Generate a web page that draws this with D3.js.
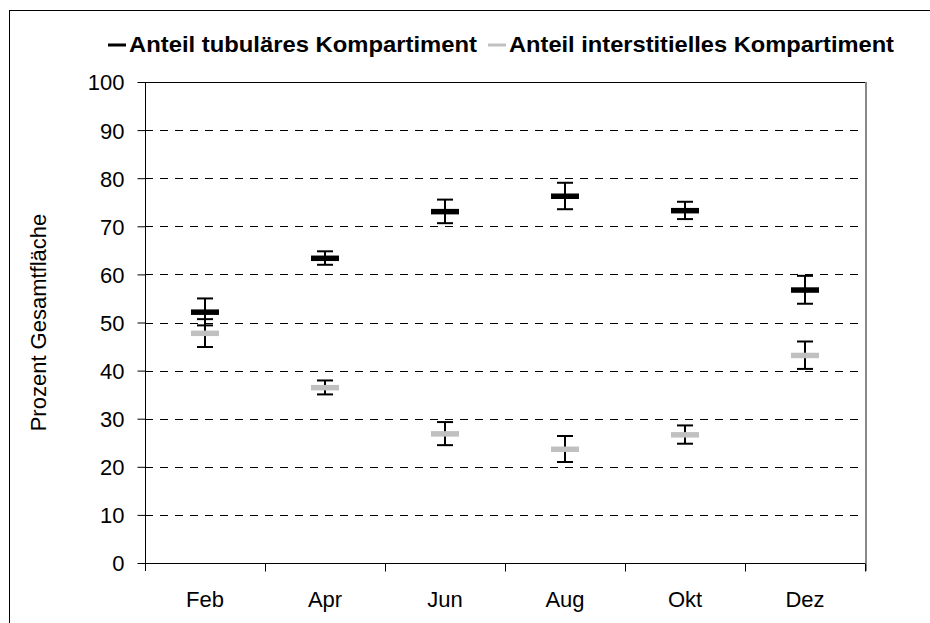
<!DOCTYPE html>
<html>
<head>
<meta charset="utf-8">
<script src="https://cdn.jsdelivr.net/npm/d3@7/dist/d3.min.js"></script>
<style>
  html, body { margin: 0; padding: 0; background: #fff; }
  svg { display: block; font-family: "Liberation Sans", Arial, sans-serif; }
</style>
</head>
<body>
<svg id="chart" width="930" height="623"></svg>
<script>
// Monthly share of total area per compartment (mean ± error)
const months = ["Feb", "Apr", "Jun", "Aug", "Okt", "Dez"];
const tubularMean = [52.2, 63.4, 73.1, 76.3, 73.3, 56.8];
const tubularErr  = [2.8, 1.4, 2.45, 2.75, 1.8, 2.9];
const interstitialMean = [47.8, 36.5, 26.9, 23.7, 26.7, 43.2];
const interstitialErr  = [2.9, 1.45, 2.4, 2.7, 1.9, 2.85];
const yTicks = [0, 10, 20, 30, 40, 50, 60, 70, 80, 90, 100];
const seriesNames = ["Anteil tubuläres Kompartiment", "Anteil interstitielles Kompartiment"];
const seriesColors = ["#000000", "#c0c0c0"];

const series = [
  { name: seriesNames[0], color: seriesColors[0], mean: tubularMean, err: tubularErr },
  { name: seriesNames[1], color: seriesColors[1], mean: interstitialMean, err: interstitialErr }
];

const svg = d3.select("#chart");
const plot = { left: 145, right: 865, top: 82, bottom: 563 };
const fontSize = 22;

// outer frame
svg.append("rect")
  .attr("x", 9.5).attr("y", 10.5)
  .attr("width", 940).attr("height", 640)
  .attr("fill", "none").attr("stroke", "#000").attr("stroke-width", 1);

const x = d3.scaleBand().domain(months).range([plot.left, plot.right]).padding(0);
const y = d3.scaleLinear().domain([0, 100]).range([plot.bottom, plot.top]);

// dashed gridlines
svg.append("g")
  .selectAll("line")
  .data(yTicks.filter(t => t > 0 && t < 100))
  .join("line")
  .attr("x1", plot.left).attr("x2", plot.right)
  .attr("y1", d => Math.round(y(d)) + 0.5).attr("y2", d => Math.round(y(d)) + 0.5)
  .attr("stroke", "#000").attr("stroke-width", 1)
  .attr("stroke-dasharray", "8,7");

// plot area border: top and right edge
svg.append("line")
  .attr("x1", plot.left).attr("x2", plot.right)
  .attr("y1", Math.round(y(100)) + 0.5).attr("y2", Math.round(y(100)) + 0.5)
  .attr("stroke", "#000").attr("stroke-width", 1);
svg.append("line")
  .attr("x1", plot.right + 1).attr("x2", plot.right + 1)
  .attr("y1", y(100)).attr("y2", plot.bottom + 8)
  .attr("stroke", "#888").attr("stroke-width", 2);

// y axis
const yAxis = svg.append("g")
  .attr("transform", `translate(${plot.left + 0.5},0)`)
  .call(d3.axisLeft(y).tickValues(yTicks).tickSize(8).tickPadding(13).tickSizeOuter(0));
yAxis.attr("font-size", fontSize).attr("font-family", "Liberation Sans, Arial, sans-serif");
yAxis.select(".domain").attr("d", `M0,${y(100)}V${plot.bottom + 8}`).attr("stroke", "#000");
yAxis.selectAll(".tick line").attr("stroke", "#000");
yAxis.selectAll(".tick text").attr("fill", "#000").attr("dy", "0.36em");

// x axis with ticks between categories
const xAxis = svg.append("g")
  .attr("transform", `translate(0,${plot.bottom + 0.5})`);
xAxis.append("line")
  .attr("x1", plot.left).attr("x2", plot.right)
  .attr("stroke", "#000");
const boundaries = months.map(m => x(m) + x.bandwidth());
xAxis.selectAll("line.tick")
  .data(boundaries)
  .join("line").attr("class", "tick")
  .attr("x1", d => Math.round(d) + 0.5).attr("x2", d => Math.round(d) + 0.5)
  .attr("y1", 0).attr("y2", 8)
  .attr("stroke", "#000");
xAxis.selectAll("text")
  .data(months)
  .join("text")
  .attr("x", d => x(d) + x.bandwidth() / 2)
  .attr("y", 43)
  .attr("text-anchor", "middle")
  .attr("font-size", fontSize)
  .text(d => d);

// y axis title
svg.append("text")
  .attr("transform", `translate(46,${(plot.top + plot.bottom) / 2}) rotate(-90)`)
  .attr("text-anchor", "middle")
  .attr("font-size", fontSize)
  .text("Prozent Gesamtfläche");

const cx = m => x(m) + x.bandwidth() / 2;

// error bars (drawn under the markers)
series.forEach(s => {
  const g = svg.append("g");
  months.forEach((m, i) => {
    const hi = y(s.mean[i] + s.err[i]);
    const lo = y(s.mean[i] - s.err[i]);
    const c = cx(m);
    g.append("line").attr("x1", c).attr("x2", c).attr("y1", hi).attr("y2", lo)
      .attr("stroke", "#000").attr("stroke-width", 2);
    [hi, lo].forEach(v => {
      g.append("line").attr("x1", c - 8).attr("x2", c + 8).attr("y1", v).attr("y2", v)
        .attr("stroke", "#000").attr("stroke-width", 2);
    });
  });
});

// dash markers for the means
series.forEach(s => {
  svg.append("g")
    .selectAll("rect")
    .data(months)
    .join("rect")
    .attr("x", d => cx(d) - 14)
    .attr("y", (d, i) => y(s.mean[i]) - 2.5)
    .attr("width", 28).attr("height", 5.5)
    .attr("fill", s.color);
});

// legend
const legend = svg.append("g");
const legendItems = [
  { sx: 108, tx: 129, tw: 348 },
  { sx: 488, tx: 509, tw: 385 }
];
series.forEach((s, i) => {
  const it = legendItems[i];
  legend.append("line")
    .attr("x1", it.sx).attr("x2", it.sx + 18)
    .attr("y1", 45).attr("y2", 45)
    .attr("stroke", s.color).attr("stroke-width", 3);
  legend.append("text")
    .attr("x", it.tx).attr("y", 52)
    .attr("font-size", fontSize).attr("font-weight", "bold")
    .attr("textLength", it.tw).attr("lengthAdjust", "spacingAndGlyphs")
    .text(s.name);
});
</script>
</body>
</html>
